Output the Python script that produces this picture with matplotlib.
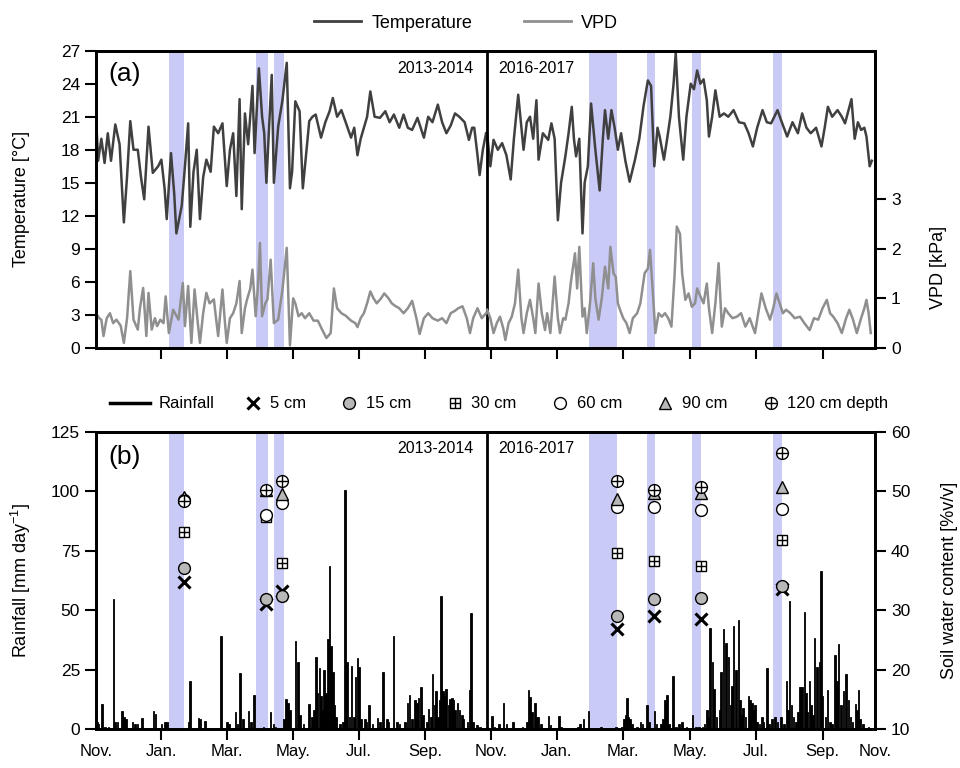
import numpy as np
import matplotlib.pyplot as plt
from matplotlib.lines import Line2D

plt.rcParams['font.family'] = ['Liberation Sans', 'DejaVu Sans']
plt.rcParams['mathtext.default'] = 'regular'

# x is plot days from 1 Nov 2013; the 2016-2017 season follows the break at day 365
season_break = 365
x_max = 727

# (day, temperature degC)
temp_2013 = [
    (0, 21.0), (2, 17.0), (5, 19.0), (8, 16.8), (11, 19.5), (14, 17.0), (18, 20.3), (22, 18.5),
    (26, 11.4), (29, 15.6), (32, 20.6), (35, 18.0), (39, 18.0), (42, 15.5), (45, 13.5), (49, 20.1),
    (53, 15.9), (58, 16.5), (61, 17.1), (64, 14.5), (66, 11.7), (70, 17.7), (73, 14.0), (75, 10.4),
    (80, 12.9), (83, 16.5), (86, 20.4), (88, 11.0), (91, 16.0), (94, 18.0), (97, 11.7), (100, 15.5),
    (103, 17.1), (107, 16.0), (110, 20.1), (114, 19.5), (118, 20.4), (122, 14.7), (125, 18.0),
    (128, 19.5), (131, 13.8), (134, 22.6), (136, 12.6), (139, 21.3), (142, 18.5), (146, 23.8),
    (148, 17.7), (152, 25.4), (155, 21.0), (157, 19.5), (159, 15.0), (162, 21.0), (164, 24.8),
    (166, 15.0), (170, 20.1), (174, 22.5), (178, 25.9), (181, 14.5), (183, 16.0), (186, 22.4),
    (190, 21.5), (193, 14.5), (196, 17.5), (199, 20.6), (202, 21.0), (205, 21.2), (210, 19.1),
    (214, 20.5), (218, 21.5), (221, 22.7), (225, 21.0), (229, 21.6), (233, 20.5), (238, 19.1),
    (241, 20.0), (244, 17.5), (247, 19.0), (250, 20.0), (253, 21.0), (256, 23.3), (260, 21.0),
    (265, 20.9), (270, 21.5), (274, 20.5), (278, 21.2), (283, 20.0), (287, 21.2), (291, 20.0),
    (295, 19.8), (300, 20.9), (303, 20.0), (306, 19.1), (310, 21.0), (314, 20.5), (319, 22.1),
    (323, 20.5), (327, 19.5), (331, 20.2), (335, 21.3), (339, 21.0), (344, 20.5), (348, 18.9),
    (351, 20.0), (353, 20.0), (356, 17.5), (358, 15.7), (361, 18.0), (364, 19.5),
]
temp_2016 = [
    (365, 19.5), (368, 16.5), (371, 18.9), (375, 18.0), (379, 18.6), (383, 17.5), (387, 15.3),
    (390, 19.0), (394, 23.0), (397, 20.0), (399, 18.0), (402, 20.5), (405, 21.0), (408, 19.0),
    (411, 22.5), (413, 17.1), (417, 19.5), (422, 18.9), (425, 20.4), (428, 19.0), (431, 11.6),
    (434, 15.0), (438, 17.4), (441, 19.5), (444, 21.9), (446, 19.0), (448, 17.4), (451, 19.0),
    (454, 10.4), (456, 15.0), (459, 16.5), (462, 22.2), (466, 18.0), (470, 14.3), (473, 19.0),
    (475, 21.6), (478, 19.0), (481, 21.6), (484, 20.0), (487, 18.0), (490, 19.5), (494, 17.0),
    (498, 15.1), (503, 17.1), (507, 19.0), (511, 22.0), (515, 24.3), (518, 23.8), (521, 16.5),
    (524, 20.0), (526, 19.2), (530, 17.1), (533, 19.0), (536, 21.0), (539, 24.0), (541, 26.8),
    (544, 21.0), (546, 19.0), (548, 17.1), (551, 21.0), (555, 24.0), (558, 23.5), (561, 25.2),
    (564, 24.0), (567, 24.4), (570, 22.5), (572, 19.2), (575, 21.0), (578, 23.4), (582, 21.0),
    (586, 21.3), (590, 21.0), (595, 21.6), (600, 20.5), (605, 20.4), (609, 19.5), (613, 18.3),
    (617, 20.0), (622, 21.6), (626, 20.5), (630, 20.4), (633, 21.0), (636, 21.6), (640, 20.5),
    (645, 19.2), (650, 20.5), (655, 19.5), (659, 21.3), (663, 20.0), (667, 19.5), (672, 20.0),
    (677, 18.3), (680, 20.0), (683, 21.9), (687, 21.0), (692, 21.6), (696, 21.0), (699, 20.4),
    (702, 21.5), (705, 22.6), (708, 19.0), (711, 20.5), (714, 19.8), (717, 20.0), (719, 19.2),
    (722, 16.5), (724, 17.0),
]

# (day, VPD kPa)
vpd_2013 = [
    (0, 0.7), (3, 0.6), (5, 0.57), (7, 0.24), (10, 0.6), (13, 0.7), (16, 0.5), (19, 0.57),
    (23, 0.45), (26, 0.1), (29, 0.6), (32, 1.55), (35, 0.57), (39, 0.37), (41, 0.8), (44, 1.21),
    (47, 0.24), (49, 1.11), (52, 0.37), (55, 0.6), (57, 0.44), (60, 0.57), (63, 0.5), (65, 1.04),
    (68, 0.3), (72, 0.77), (75, 0.65), (77, 0.57), (81, 1.31), (83, 0.44), (86, 1.25), (89, 0.1),
    (92, 1.18), (95, 0.5), (97, 0.1), (100, 0.7), (103, 1.11), (106, 0.9), (110, 0.98), (112, 0.6),
    (114, 0.24), (118, 1.18), (120, 0.6), (122, 0.1), (125, 0.6), (128, 0.7), (131, 0.9),
    (134, 1.35), (136, 0.3), (139, 0.8), (141, 0.98), (144, 1.2), (146, 1.58), (149, 0.64),
    (151, 1.2), (153, 2.12), (155, 0.64), (158, 0.9), (160, 0.98), (163, 1.78), (166, 0.5),
    (170, 0.57), (174, 1.18), (178, 2.02), (181, 0.05), (184, 1.0), (186, 0.9), (189, 0.64),
    (192, 0.7), (195, 0.6), (199, 0.7), (203, 0.55), (207, 0.55), (211, 0.37), (215, 0.2),
    (219, 0.3), (222, 1.2), (225, 0.8), (229, 0.7), (233, 0.65), (238, 0.55), (242, 0.5),
    (244, 0.42), (247, 0.6), (250, 0.7), (253, 0.9), (256, 1.14), (259, 1.0), (262, 0.9),
    (266, 1.0), (269, 1.1), (273, 1.0), (276, 0.9), (279, 0.85), (283, 0.8), (287, 0.7),
    (291, 0.8), (295, 0.95), (299, 0.6), (302, 0.28), (306, 0.6), (310, 0.7), (314, 0.6),
    (319, 0.55), (323, 0.6), (327, 0.5), (331, 0.7), (335, 0.75), (338, 0.8), (342, 0.84),
    (346, 0.6), (349, 0.3), (352, 0.6), (356, 0.8), (360, 0.6), (364, 0.7),
]
vpd_2016 = [
    (365, 0.77), (368, 0.6), (371, 0.3), (374, 0.5), (377, 0.63), (380, 0.4), (382, 0.16),
    (385, 0.5), (388, 0.63), (391, 0.9), (394, 1.58), (397, 0.6), (399, 0.3), (402, 0.7),
    (405, 0.97), (408, 0.6), (410, 0.3), (413, 1.3), (416, 0.7), (419, 0.36), (421, 0.7),
    (424, 0.3), (428, 1.44), (431, 0.6), (433, 0.3), (436, 0.6), (438, 0.57), (441, 0.9),
    (443, 1.3), (447, 1.91), (449, 1.2), (451, 2.04), (454, 0.63), (456, 0.8), (458, 0.3),
    (461, 0.9), (464, 1.71), (466, 1.0), (469, 0.57), (472, 1.0), (475, 1.64), (478, 1.2),
    (480, 2.04), (483, 1.5), (485, 1.44), (487, 0.9), (489, 0.77), (492, 0.6), (495, 0.5),
    (498, 0.3), (501, 0.6), (505, 0.7), (508, 0.9), (512, 1.51), (515, 1.6), (517, 1.98),
    (520, 1.0), (522, 0.3), (525, 0.7), (528, 0.63), (531, 0.7), (534, 0.6), (537, 0.43),
    (540, 1.5), (542, 2.45), (545, 2.3), (547, 1.5), (550, 0.97), (553, 1.1), (556, 0.83),
    (559, 0.9), (561, 1.2), (564, 1.04), (567, 0.9), (570, 1.3), (572, 0.8), (575, 0.3),
    (578, 0.9), (581, 1.71), (584, 0.43), (587, 0.8), (590, 0.7), (594, 0.6), (598, 0.63),
    (602, 0.7), (606, 0.43), (610, 0.6), (615, 0.3), (618, 0.7), (621, 1.1), (625, 0.8),
    (629, 0.57), (632, 0.8), (635, 1.1), (638, 0.9), (641, 0.7), (644, 0.77), (648, 0.7),
    (652, 0.6), (657, 0.63), (661, 0.5), (666, 0.36), (670, 0.6), (674, 0.57), (678, 0.8),
    (682, 0.97), (685, 0.7), (688, 0.63), (692, 0.5), (696, 0.3), (700, 0.6), (703, 0.77),
    (706, 0.6), (710, 0.3), (714, 0.6), (717, 0.8), (719, 0.97), (721, 0.7), (723, 0.3),
]

# (day, rainfall mm/day)
rain = [
    (1.2, 3), (2.5, 2), (5.6, 10.5), (8.4, 1), (11.5, 1), (16.2, 54.7), (17.8, 3), (20, 3),
    (24, 7.5), (26.2, 5), (28, 4), (34.2, 3), (36.4, 2), (38.9, 2), (43, 4.5), (47.3, 0.5),
    (53.5, 7.5), (55.4, 6.5), (61.3, 2), (64.4, 3), (66, 3), (86.5, 3), (87.8, 20), (95.5, 4.5),
    (97, 4), (101.8, 3.5), (116.4, 39), (122, 3), (123.9, 2), (130, 7), (132, 2), (134.5, 23.5),
    (137, 4), (142.3, 7.5), (144.4, 3), (147.5, 14.5), (156.3, 1), (163, 7), (165.6, 2),
    (167.4, 1), (175.5, 4), (177.4, 12.5), (179.2, 11), (181, 8), (186, 37), (188.3, 28),
    (190.4, 6), (193.5, 2), (199, 10.5), (201.3, 5), (203.5, 8), (205.4, 30.5), (206.6, 15),
    (208.5, 25.5), (210, 14), (211.6, 8), (212.8, 25), (214.7, 15), (216.3, 38), (217.8, 68.5),
    (219.4, 35), (220.9, 24), (222.5, 10), (224, 5), (227.8, 2), (230.3, 3), (232.4, 100.5),
    (234, 28), (236.5, 5), (238.6, 26.5), (240.8, 5), (242, 22), (244.2, 30), (245.4, 26),
    (247.3, 4), (251, 4), (252.6, 3), (255, 10), (258, 2), (262.6, 4.5), (265, 3), (267.6, 24),
    (271.4, 4), (272.9, 3), (277.6, 39), (280.7, 3), (283.2, 2), (288.5, 3), (290.7, 11),
    (292.5, 14.5), (295, 4), (297.8, 12), (299.4, 11), (301, 13), (303.1, 17.5), (305, 6),
    (308.8, 3), (310.3, 8.5), (312.5, 5), (314, 23), (315.9, 10), (317.5, 16), (319, 5),
    (320.5, 12), (322, 56), (323.6, 16), (325.2, 14), (326.7, 17), (328.9, 10), (330.4, 12.5),
    (332, 13), (333.6, 12), (335, 8), (337.3, 11), (339.2, 8), (341.3, 6), (342.9, 4),
    (346.6, 3), (348.5, 16.5), (349.8, 49), (351.6, 3), (355.4, 1.5), (358.5, 1),
    (365.5, 1), (369.4, 5.5), (372, 1), (376, 2), (380.3, 11), (383, 2), (389, 3), (398, 1),
    (402, 3), (403.6, 16.4), (405, 13.5), (407, 7), (409.8, 11), (411.5, 5), (413, 5), (415, 2),
    (422.3, 5.5), (424, 1.5), (432.2, 5.5), (434, 1), (450, 1), (451.8, 2), (455, 4),
    (459.6, 7.5), (471, 1), (485, 1), (491, 1), (493, 4), (494, 6), (495.4, 13.2), (497, 5),
    (498.5, 4), (500, 2), (505, 1), (508, 3), (510, 2), (514, 10), (516, 3), (521.2, 7.5),
    (523, 2), (527, 2), (529, 4), (531, 12), (532.7, 14.2), (535, 2), (538.3, 22.3), (541, 1),
    (544, 2), (546.7, 3), (551, 1), (556.7, 6), (560, 1), (563, 1), (566, 1), (568, 2), (570, 8),
    (571.5, 5), (573.2, 42.5), (575.4, 28), (577, 17), (579, 5), (582, 8), (583.5, 24),
    (585.6, 42), (588.1, 36), (590.3, 30.4), (592, 10), (593.5, 18), (595, 43.3), (597, 25),
    (599.6, 45.9), (601, 12), (602.8, 6), (604, 9), (606, 5), (609, 14), (610.5, 12), (612, 11),
    (613.5, 8), (615.2, 10), (617, 3), (619, 2), (621.4, 5), (623, 3), (626.1, 25.7), (628, 2),
    (631, 4), (633.9, 5), (636, 3), (639.5, 5), (642, 2), (644.2, 20), (645.5, 8), (647.2, 54),
    (649, 10), (651, 5), (653, 3), (655, 7), (657.2, 17.5), (659, 17.5), (661, 49.4),
    (662.3, 15), (664, 7), (665.9, 20), (667.5, 10), (669, 6), (670.6, 38.3), (672.8, 26),
    (675.3, 28), (676.5, 66.5), (678, 14), (680.6, 5), (682.7, 16.3), (685, 3), (687, 2),
    (689.9, 31), (691.5, 20), (693, 35.6), (695, 10), (697.6, 16), (700.1, 23), (702.3, 12),
    (704, 5), (706, 3), (708.6, 10.5), (710, 8), (711.7, 16.2), (713, 4), (716, 2), (721, 1),
]

# shaded sampling periods (start day, end day)
bands = [(68.1, 82.2), (149.4, 160.6), (166.2, 175.5), (460.2, 486.1),
         (514.2, 521.7), (556.1, 564.5), (631.7, 640.4)]

# soil water content [%v/v] at the sampling dates
swc_day = [82, 159, 174, 486, 521, 565, 640]
swc_5cm = [34.7, 31.0, 33.2, 26.8, 29.1, 28.6, 33.6]
swc_15cm = [37.1, 31.8, 32.4, 29.0, 31.8, 32.0, 34.1]
swc_30cm = [43.1, 45.7, 38.0, 39.6, 38.2, 37.5, 41.9]
swc_60cm = [48.5, 46.0, 48.0, 47.3, 47.3, 46.9, 47.0]
swc_90cm = [49.0, 50.2, 49.5, 48.8, 49.7, 49.7, 50.7]
swc_120cm = [48.3, 50.3, 51.75, 51.75, 50.3, 50.8, 56.5]

month_ticks = [61, 122, 184, 245, 307, 369, 430, 492, 554, 616, 678]
month_labels = ['Jan.', 'Mar.', 'May.', 'Jul.', 'Sep.', 'Nov.',
                'Jan.', 'Mar.', 'May.', 'Jul.', 'Sep.']

temp_color = '#404040'
vpd_color = '#8f8f8f'
band_color = '#cacaf6'
grey_fill = '#b8b8b8'

fig = plt.figure(figsize=(9.6, 7.68), dpi=100)
ax_a = fig.add_axes([0.1, 0.547, 0.8115, 0.387])
ax_b = fig.add_axes([0.1, 0.0508, 0.8115, 0.3867])


def style_axis(ax):
    for sp in ax.spines.values():
        sp.set_linewidth(2)
    ax.tick_params(direction='out', length=8, width=1.5, labelsize=12.5)


for ax in (ax_a, ax_b):
    for start, end in bands:
        ax.axvspan(start, end, color=band_color, lw=0, zorder=0)
    ax.axvline(season_break, color='black', lw=2, zorder=3)
    ax.set_xlim(0, x_max)
    ax.set_xticks(month_ticks)
    style_axis(ax)

# ---- panel (a)
ax_a2 = ax_a.twinx()
style_axis(ax_a2)
for series in (temp_2013, temp_2016):
    d, v = np.array(series).T
    ax_a.plot(d, v, color=temp_color, lw=1.8)
ax_a.set_ylim(0, 27)
ax_a.set_yticks(np.arange(0, 28, 3))
ax_a.set_xticklabels([])
ax_a.set_ylabel('Temperature [°C]', fontsize=13)
ax_a.yaxis.set_label_coords(-0.085, 0.5)

for series in (vpd_2013, vpd_2016):
    d, v = np.array(series).T
    ax_a2.plot(d, v, color=vpd_color, lw=1.8)
ax_a2.set_ylim(0, 6)
ax_a2.set_yticks([0, 1, 2, 3])
ax_a2.set_ylabel('VPD [kPa]', fontsize=13)
ax_a2.yaxis.set_label_coords(1.071, 0.27)

ax_a.text(0.016, 0.923, '(a)', transform=ax_a.transAxes, fontsize=19, va='center')
ax_a.text(0.484, 0.94, '2013-2014', transform=ax_a.transAxes, fontsize=11.5,
          ha='right', va='center')
ax_a.text(0.516, 0.94, '2016-2017', transform=ax_a.transAxes, fontsize=11.5,
          ha='left', va='center')

fig.legend(handles=[Line2D([], [], color=temp_color, lw=2),
                    Line2D([], [], color=vpd_color, lw=2)],
           labels=['Temperature', 'VPD'], loc='center left',
           bbox_to_anchor=(0.318, 0.97), ncol=2, frameon=False, fontsize=13,
           handlelength=2.6, handletextpad=0.55, columnspacing=2.9, borderpad=0)

# ---- panel (b)
rd, rv = np.array(rain).T
ax_b.bar(rd, rv, width=1.5, color='black', edgecolor='black', lw=0.6, zorder=2)
ax_b.set_ylim(0, 125)
ax_b.set_yticks(np.arange(0, 126, 25))
ax_b.set_xticklabels(month_labels, fontsize=12)
ax_b.set_xticks([0, x_max], ['Nov.', 'Nov.'], minor=True)
ax_b.tick_params(axis='x', which='minor', length=0, pad=11, labelsize=12)
ax_b.tick_params(axis='x', which='major', pad=3, labelsize=12)
ax_b.set_ylabel('Rainfall [mm day$^{-1}$]', fontsize=13)
ax_b.yaxis.set_label_coords(-0.081, 0.5)

ax_b2 = ax_b.twinx()
style_axis(ax_b2)
ax_b2.set_ylim(10, 60)
ax_b2.set_yticks(np.arange(10, 61, 10))
ax_b2.set_ylabel('Soil water content [%v/v]', fontsize=13)
ax_b2.yaxis.set_label_coords(1.085, 0.5)

ms = 8.5
ax_b2.plot(swc_day, swc_5cm, ls='', marker='x', ms=8, mew=2.2, color='black')
ax_b2.plot(swc_day, swc_15cm, ls='', marker='o', ms=ms, mfc=grey_fill, mec='black', mew=1)
ax_b2.plot(swc_day, swc_30cm, ls='', marker='s', ms=7.5, mfc='white', mec='black', mew=1)
ax_b2.plot(swc_day, swc_30cm, ls='', marker='+', ms=7.5, mec='black', mew=1)
ax_b2.plot(swc_day, swc_60cm, ls='', marker='o', ms=ms, mfc='white', mec='black', mew=1)
ax_b2.plot(swc_day, swc_90cm, ls='', marker='^', ms=ms, mfc=grey_fill, mec='black', mew=1)
ax_b2.plot(swc_day, swc_120cm, ls='', marker='o', ms=ms, mfc='white', mec='black', mew=1)
ax_b2.plot(swc_day, swc_120cm, ls='', marker='+', ms=ms, mec='black', mew=1)

ax_b.text(0.016, 0.916, '(b)', transform=ax_b.transAxes, fontsize=19, va='center')
ax_b.text(0.484, 0.946, '2013-2014', transform=ax_b.transAxes, fontsize=11.5,
          ha='right', va='center')
ax_b.text(0.516, 0.946, '2016-2017', transform=ax_b.transAxes, fontsize=11.5,
          ha='left', va='center')

fig.legend(handles=[Line2D([], [], color='black', lw=2.5)], labels=['Rainfall'],
           loc='center left', bbox_to_anchor=(0.106, 0.474), frameon=False,
           fontsize=12, handlelength=2.4, handletextpad=0.5, borderpad=0)

h_x = Line2D([], [], ls='', marker='x', ms=8, mew=2.2, color='black')
h_15 = Line2D([], [], ls='', marker='o', ms=ms, mfc=grey_fill, mec='black', mew=1)
h_30 = (Line2D([], [], ls='', marker='s', ms=7.5, mfc='white', mec='black', mew=1),
        Line2D([], [], ls='', marker='+', ms=7.5, mec='black', mew=1))
h_60 = Line2D([], [], ls='', marker='o', ms=ms, mfc='white', mec='black', mew=1)
h_90 = Line2D([], [], ls='', marker='^', ms=ms, mfc=grey_fill, mec='black', mew=1)
h_120 = (Line2D([], [], ls='', marker='o', ms=ms, mfc='white', mec='black', mew=1),
         Line2D([], [], ls='', marker='+', ms=ms, mec='black', mew=1))
fig.legend(handles=[h_x, h_15, h_30, h_60, h_90, h_120],
           labels=['5 cm', '15 cm', '30 cm', '60 cm', '90 cm', '120 cm depth'],
           loc='center left', bbox_to_anchor=(0.248, 0.474), ncol=6, frameon=False,
           fontsize=12, handlelength=0.8, handletextpad=0.6, columnspacing=2.2,
           borderpad=0)

fig.savefig('out.png', dpi=100)
